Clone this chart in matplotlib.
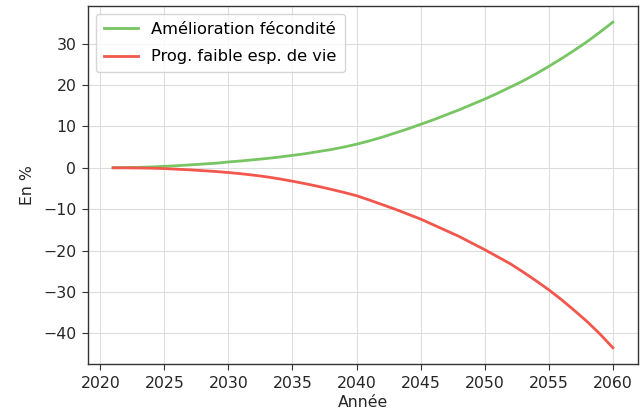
import matplotlib
matplotlib.use("Agg")
import matplotlib.pyplot as plt

years = list(range(2021, 2061))

amelioration_fecondite = [
    0.0, 0.05, 0.1, 0.2, 0.35, 0.5, 0.7, 0.9, 1.1, 1.4,
    1.65, 1.95, 2.25, 2.6, 3.0, 3.4, 3.9, 4.4, 5.0, 5.7,
    6.5, 7.4, 8.4, 9.4, 10.5, 11.6, 12.8, 14.0, 15.3, 16.6,
    18.0, 19.5, 21.0, 22.7, 24.5, 26.4, 28.4, 30.5, 32.8, 35.2,
]

prog_faible_esp_vie = [
    0.0, -0.02, -0.05, -0.1, -0.2, -0.35, -0.5, -0.7, -0.9, -1.15,
    -1.45, -1.8, -2.2, -2.7, -3.25, -3.85, -4.5, -5.2, -5.95, -6.75,
    -7.8, -8.9, -10.0, -11.2, -12.4, -13.8, -15.2, -16.6, -18.2, -19.8,
    -21.5, -23.2, -25.2, -27.3, -29.5, -31.9, -34.5, -37.2, -40.2, -43.5,
]

labels = ["Amélioration fécondité", "Prog. faible esp. de vie"]
colors = ["#77c563", "#f2564c"]

plt.rcParams["font.family"] = ["DejaVu Sans"]
plt.rcParams["font.size"] = 11.3

fig = plt.figure(figsize=(6.43, 4.17), dpi=100)
ax = fig.add_axes([0.137, 0.127, 0.855, 0.859])

ax.plot(years, amelioration_fecondite, color=colors[0], lw=2, label=labels[0])
ax.plot(years, prog_faible_esp_vie, color=colors[1], lw=2, label=labels[1])

ax.set_xticks(range(2020, 2061, 5))
ax.set_yticks(range(-40, 31, 10))
ax.grid(True, color="#dddddd", lw=0.8)
ax.set_axisbelow(True)

for s in ax.spines.values():
    s.set_color("#333333")
    s.set_linewidth(1.0)
ax.tick_params(colors="#333333", labelcolor="#262626", length=4.5, pad=4)

ax.set_xlabel("Année", color="#262626", labelpad=3)
ax.set_ylabel("En %", color="#262626", labelpad=6)

leg = ax.legend(loc="upper left", frameon=True, fontsize=11.7,
                labelspacing=0.75, handlelength=2.1, borderpad=0.5)
leg.get_frame().set_edgecolor("#cccccc")

fig.savefig("out.png", dpi=100)
